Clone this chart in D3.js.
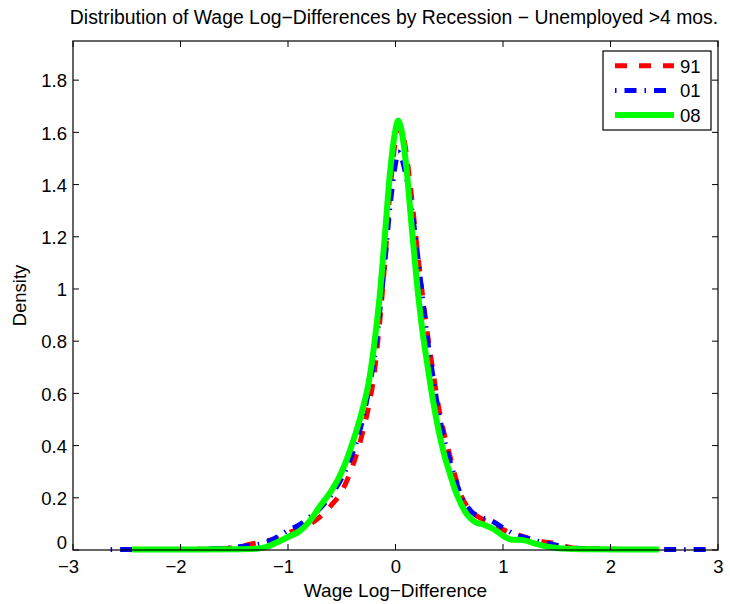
<!DOCTYPE html>
<html>
<head>
<meta charset="utf-8">
<script src="https://cdn.jsdelivr.net/npm/d3@7"></script>
<style>
  body { margin: 0; background: #fff; }
  text { font-family: "Liberation Sans", Arial, sans-serif; fill: #000; }
</style>
</head>
<body>
<div id="chart"></div>
<script>
// kernel density estimates
var x91 = [-2.3, -1.8, -1.5, -1.35, -1.2, -1.1, -1.0, -0.9, -0.8, -0.7, -0.6, -0.5, -0.4, -0.3, -0.25, -0.2, -0.15, -0.1, -0.05, 0, 0.03, 0.06, 0.1, 0.15, 0.2, 0.25, 0.3, 0.35, 0.4, 0.45, 0.5, 0.55, 0.6, 0.7, 0.8, 0.9, 1.0, 1.1, 1.2, 1.3, 1.4, 1.5, 1.6, 1.7, 2.0, 2.3];
var d91 = [0.002, 0.003, 0.008, 0.022, 0.035, 0.045, 0.065, 0.08, 0.098, 0.128, 0.17, 0.225, 0.32, 0.46, 0.55, 0.67, 0.86, 1.10, 1.38, 1.57, 1.625, 1.61, 1.52, 1.35, 1.16, 0.98, 0.82, 0.68, 0.55, 0.45, 0.37, 0.29, 0.22, 0.15, 0.12, 0.10, 0.078, 0.062, 0.05, 0.038, 0.03, 0.025, 0.012, 0.006, 0.003, 0.002];

var x01 = [-2.65, -2.0, -1.6, -1.4, -1.3, -1.2, -1.1, -1.0, -0.9, -0.8, -0.7, -0.6, -0.5, -0.4, -0.3, -0.25, -0.2, -0.15, -0.1, -0.05, 0, 0.025, 0.05, 0.1, 0.15, 0.2, 0.25, 0.3, 0.35, 0.4, 0.45, 0.5, 0.55, 0.6, 0.7, 0.8, 0.9, 1.0, 1.1, 1.2, 1.3, 1.4, 1.5, 1.6, 1.8, 2.2, 2.9];
var d01 = [0.002, 0.002, 0.006, 0.015, 0.02, 0.03, 0.05, 0.075, 0.095, 0.125, 0.16, 0.21, 0.275, 0.37, 0.51, 0.61, 0.73, 0.90, 1.10, 1.32, 1.48, 1.525, 1.51, 1.43, 1.31, 1.15, 0.97, 0.80, 0.66, 0.53, 0.43, 0.35, 0.28, 0.22, 0.15, 0.125, 0.11, 0.085, 0.062, 0.048, 0.036, 0.027, 0.018, 0.01, 0.004, 0.002, 0.002];

var x08 = [-2.45, -2.0, -1.5, -1.3, -1.2, -1.1, -1.0, -0.9, -0.8, -0.7, -0.6, -0.5, -0.4, -0.3, -0.25, -0.2, -0.15, -0.1, -0.05, 0, 0.025, 0.05, 0.1, 0.15, 0.2, 0.25, 0.3, 0.35, 0.4, 0.45, 0.5, 0.55, 0.6, 0.65, 0.7, 0.75, 0.8, 0.85, 0.9, 0.95, 1.0, 1.05, 1.1, 1.15, 1.2, 1.3, 1.4, 1.5, 1.6, 1.8, 2.45];
var d08 = [0.002, 0.002, 0.003, 0.005, 0.012, 0.03, 0.05, 0.07, 0.11, 0.17, 0.225, 0.30, 0.41, 0.55, 0.64, 0.78, 0.96, 1.2, 1.45, 1.61, 1.645, 1.62, 1.47, 1.24, 1.02, 0.84, 0.70, 0.57, 0.46, 0.37, 0.30, 0.235, 0.185, 0.145, 0.12, 0.105, 0.10, 0.092, 0.083, 0.07, 0.055, 0.043, 0.039, 0.039, 0.037, 0.024, 0.014, 0.008, 0.005, 0.003, 0.002];

var seriesNames = ["91", "01", "08"];
var xTicks = [-3, -2, -1, 0, 1, 2, 3];
var yTicks = [0, 0.2, 0.4, 0.6, 0.8, 1, 1.2, 1.4, 1.6, 1.8];

var width = 730, height = 604;
var margin = {top: 41, right: 12, bottom: 54, left: 73};

var svg = d3.select("#chart").append("svg")
  .attr("width", width)
  .attr("height", height);

var x = d3.scaleLinear().domain([-3, 3]).range([margin.left, width - margin.right]);
var y = d3.scaleLinear().domain([0, 1.95]).range([height - margin.bottom, margin.top]);

// title
svg.append("text")
  .attr("x", 394)
  .attr("y", 24)
  .attr("text-anchor", "middle")
  .style("font-size", "19.4px")
  .text("Distribution of Wage Log\u2212Differences by Recession \u2212 Unemployed >4 mos.");

// curves
var line = d3.line()
  .x(function(d) { return x(d[0]); })
  .y(function(d) { return y(d[1]); })
  .curve(d3.curveMonotoneX);

var series = [
  {name: seriesNames[0], xs: x91, ys: d91, color: "#ff0000", width: 5, dash: "12,12"},
  {name: seriesNames[1], xs: x01, ys: d01, color: "#0000ff", width: 5, dash: "1.5,8,12,8"},
  {name: seriesNames[2], xs: x08, ys: d08, color: "#00ff00", width: 6, dash: null}
];

var plot = svg.append("g");
series.forEach(function(s) {
  plot.append("path")
    .datum(d3.zip(s.xs, s.ys))
    .attr("d", line)
    .attr("fill", "none")
    .attr("stroke", s.color)
    .attr("stroke-width", s.width)
    .attr("stroke-dasharray", s.dash)
    .attr("stroke-linejoin", "round");
});

// box with inward ticks on every side
var x0 = x.range()[0], x1 = x.range()[1], y0 = y.range()[0], y1 = y.range()[1];
var tickLen = 6;

var axisX = d3.axisBottom(x).tickValues(xTicks).tickSize(0).tickFormat(function(d) {
  return d < 0 ? "\u2212" + Math.abs(d) : d;
});
var gx = svg.append("g").attr("transform", "translate(0," + y0 + ")").call(axisX);
gx.select(".domain").remove();
gx.selectAll("text")
  .attr("y", 23)
  .attr("dy", 0)
  .attr("dx", function(d) { return d < 0 ? -5 : 0; })
  .style("font-size", "18.5px")
  .style("font-family", "Liberation Sans, Arial, sans-serif");

var axisY = d3.axisLeft(y).tickValues(yTicks).tickSize(0).tickFormat(function(d) { return d; });
var gy = svg.append("g").attr("transform", "translate(" + x0 + ",0)").call(axisY);
gy.select(".domain").remove();
gy.selectAll("text")
  .attr("x", -6)
  .attr("dy", function(d) { return d === 0 ? "-0.1em" : "0.36em"; })
  .style("font-size", "18.5px")
  .style("font-family", "Liberation Sans, Arial, sans-serif");

var ticks = svg.append("g").attr("stroke", "#000").attr("stroke-width", 1);
xTicks.forEach(function(t) {
  ticks.append("line").attr("x1", x(t)).attr("x2", x(t)).attr("y1", y0).attr("y2", y0 - tickLen);
  ticks.append("line").attr("x1", x(t)).attr("x2", x(t)).attr("y1", y1).attr("y2", y1 + tickLen);
});
yTicks.forEach(function(t) {
  ticks.append("line").attr("x1", x0).attr("x2", x0 + tickLen).attr("y1", y(t)).attr("y2", y(t));
  ticks.append("line").attr("x1", x1).attr("x2", x1 - tickLen).attr("y1", y(t)).attr("y2", y(t));
});

svg.append("rect")
  .attr("x", x0).attr("y", y1)
  .attr("width", x1 - x0).attr("height", y0 - y1)
  .attr("fill", "none")
  .attr("stroke", "#000")
  .attr("stroke-width", 1.2);

// axis labels
svg.append("text")
  .attr("x", (x0 + x1) / 2)
  .attr("y", 597)
  .attr("text-anchor", "middle")
  .style("font-size", "19px")
  .text("Wage Log\u2212Difference");

svg.append("text")
  .attr("transform", "translate(26," + ((y0 + y1) / 2) + ") rotate(-90)")
  .attr("text-anchor", "middle")
  .style("font-size", "18.5px")
  .text("Density");

// legend
var legend = svg.append("g");
legend.append("rect")
  .attr("x", 603).attr("y", 51)
  .attr("width", 108).attr("height", 79)
  .attr("fill", "#fff")
  .attr("stroke", "#000")
  .attr("stroke-width", 1.2);

series.forEach(function(s, i) {
  var ly = 65.7 + i * 24.7;
  legend.append("line")
    .attr("x1", 615).attr("x2", 674)
    .attr("y1", ly).attr("y2", ly)
    .attr("stroke", s.color)
    .attr("stroke-width", s.width)
    .attr("stroke-dasharray", s.dash);
  legend.append("text")
    .attr("x", 680)
    .attr("y", ly + 7)
    .style("font-size", "18.5px")
    .text(s.name);
});
</script>
</body>
</html>
